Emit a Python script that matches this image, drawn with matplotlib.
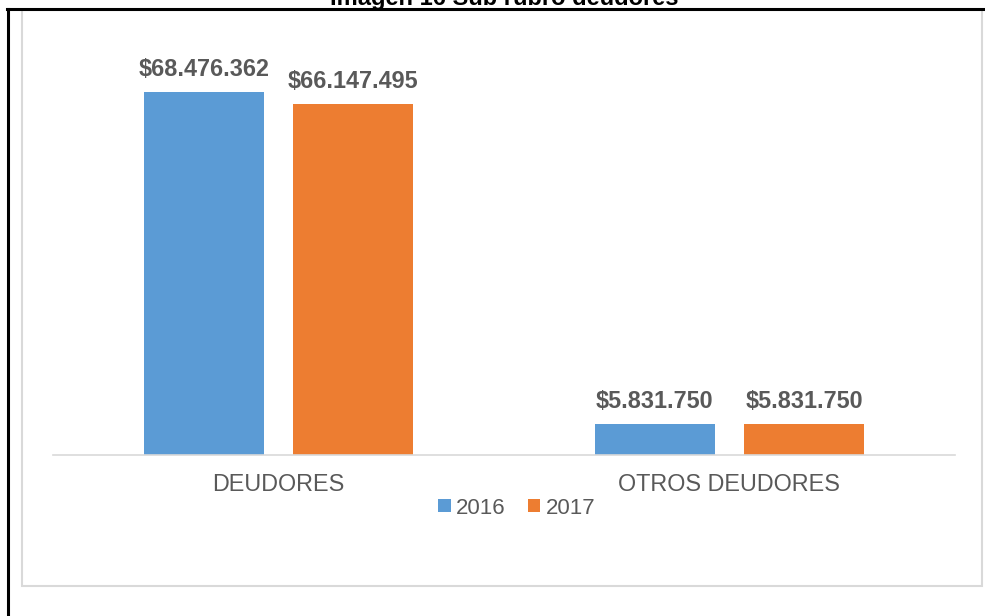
import matplotlib
matplotlib.use("Agg")
import matplotlib.pyplot as plt
import numpy as np
from matplotlib.patches import Rectangle
from matplotlib.lines import Line2D

categories = ["DEUDORES", "OTROS DEUDORES"]
years = ["2016", "2017"]
values_2016 = [68476362, 5831750]
values_2017 = [66147495, 5831750]
labels_2016 = ["$68.476.362", "$5.831.750"]
labels_2017 = ["$66.147.495", "$5.831.750"]
title = "Imagen 16 Sub rubro deudores"

plt.rcParams['font.family'] = ['Liberation Sans', 'DejaVu Sans']

W, H = 985, 616
fig = plt.figure(figsize=(W / 100, H / 100), dpi=100)
fig.patch.set_facecolor("white")

def fx(px):
    return px / W

def fy(py):
    return 1 - py / H

# inner chart box (behind everything)
fig.patches.append(Rectangle((fx(22), fy(586)), fx(982) - fx(22), fy(10) - fy(586),
                             transform=fig.transFigure, facecolor="white",
                             edgecolor="#D9D9D9", lw=1.5, zorder=-10, figure=fig))
# outer black frame (left and top)
fig.add_artist(Line2D([fx(8), fx(8)], [fy(8.5), fy(H + 5)], color="black", lw=2.2,
                      transform=fig.transFigure))
fig.add_artist(Line2D([fx(7), fx(W + 5)], [fy(8.5), fy(8.5)], color="black", lw=2.2,
                      transform=fig.transFigure))

fig.text(fx(504), fy(5.5), title, ha="center", va="baseline", fontsize=17,
         fontweight="bold", color="black")

ax = fig.add_axes([fx(53), fy(455), fx(955) - fx(53), fy(31) - fy(455)])
ax.set_facecolor("none")
ax.set_zorder(5)

x = np.arange(len(categories))
bw = 0.266
off = 0.166
c16, c17 = "#5B9BD5", "#ED7D31"
b1 = ax.bar(x - off, values_2016, bw, color=c16, label=years[0])
b2 = ax.bar(x + off, values_2017, bw, color=c17, label=years[1])

ax.set_xlim(-0.5, 1.5)
ax.set_ylim(0, 80000000)

for bars, labs in ((b1, labels_2016), (b2, labels_2017)):
    for rect, lab in zip(bars, labs):
        ax.annotate(lab, (rect.get_x() + rect.get_width() / 2, rect.get_height()),
                    xytext=(0, 8), textcoords="offset points", ha="center",
                    va="bottom", fontsize=16.8, fontweight="bold", color="#595959")

for s in ["top", "right", "left"]:
    ax.spines[s].set_visible(False)
ax.spines["bottom"].set_color("#D9D9D9")
ax.spines["bottom"].set_linewidth(1.2)
ax.set_yticks([])
ax.set_xticks(x)
ax.set_xticklabels(categories, fontsize=16.8, color="#595959")
ax.tick_params(axis="x", length=0, pad=13)

leg = fig.legend(handles=[b1, b2], labels=years, loc="center",
                 bbox_to_anchor=(fx(517), fy(508)), ncol=2, frameon=False,
                 fontsize=16, handlelength=0.55, handleheight=0.55,
                 handletextpad=0.25, columnspacing=1.0, labelcolor="#595959")

fig.savefig("out.png", dpi=100, facecolor="white")
